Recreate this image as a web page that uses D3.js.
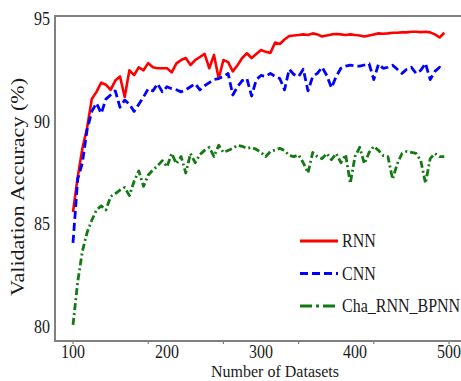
<!DOCTYPE html>
<html>
<head>
<meta charset="utf-8">
<script src="https://cdn.jsdelivr.net/npm/d3@7"></script>
<style>
  body { margin: 0; background: #fff; }
  svg { display: block; }
  text { font-family: "Liberation Serif", "Times New Roman", serif; fill: #1a1a1a; }
</style>
</head>
<body>
<svg id="chart" width="461" height="381"></svg>
<script>
// データ
var datasetSizes = d3.range(100, 500, 5);

var rnnAcc = [
  85.6, 87.3, 88.7, 89.7, 91.1, 91.45, 91.9, 91.8, 91.55, 92.0,
  92.2, 91.2, 92.5, 92.27, 92.65, 92.5, 92.85, 92.65, 92.6, 92.6,
  92.6, 92.4, 92.84, 93.0, 93.1, 92.76, 93.0, 93.15, 93.3, 92.6,
  93.25, 92.1, 93.0, 92.9, 92.45, 92.75, 93.1, 93.33, 93.1, 93.3,
  93.49, 93.4, 93.35, 93.85, 93.78, 94.0, 94.17, 94.2, 94.22, 94.25,
  94.22, 94.3, 94.25, 94.15, 94.2, 94.25, 94.27, 94.25, 94.22, 94.25,
  94.22, 94.2, 94.15, 94.2, 94.25, 94.3, 94.28, 94.3, 94.33, 94.33,
  94.35, 94.35, 94.38, 94.38, 94.36, 94.38, 94.35, 94.25, 94.1, 94.33
];

var cnnAcc = [
  84.1, 87.2, 88.0, 89.6, 90.5, 90.9, 90.4, 91.1, 91.3, 91.5,
  90.7, 91.05, 90.85, 90.5, 90.85, 91.2, 91.6, 91.5, 91.85, 91.45,
  91.7, 91.6, 91.55, 91.45, 91.55, 91.7, 91.85, 91.55, 91.75, 91.9,
  92.05, 92.1, 92.2, 92.35, 91.3, 91.7, 92.0, 92.1, 91.25, 92.05,
  92.25, 92.2, 92.35, 92.2, 92.1, 91.55, 92.55, 92.3, 92.2, 92.55,
  91.5, 92.2, 92.35, 92.65, 92.25, 91.65, 92.2, 92.6, 92.7, 92.75,
  92.72, 92.7, 92.76, 92.82, 92.05, 92.8, 92.6, 92.65, 92.75, 92.55,
  92.35, 92.55, 92.65, 92.35, 92.5, 92.84, 92.05, 92.45, 92.65, 92.55
];

var chaAcc = [
  80.1, 82.2, 83.7, 84.6, 85.2, 85.7, 85.9, 85.7, 86.35, 86.5,
  86.67, 86.8, 86.4, 87.1, 87.6, 86.85, 87.4, 87.65, 87.85, 88.1,
  87.8, 88.45, 87.95, 88.3, 87.5, 88.45, 88.0, 88.4, 88.6, 88.75,
  88.3, 88.85, 88.5, 88.6, 88.7, 88.85, 88.8, 88.7, 88.75, 88.65,
  88.5, 88.3, 88.55, 88.62, 88.7, 88.6, 88.35, 88.3, 88.38, 88.0,
  87.5, 88.5, 88.3, 88.2, 88.45, 88.15, 88.45, 88.0, 88.4, 87.0,
  88.3, 88.75, 87.95, 88.5, 88.8, 88.6, 88.35, 88.3, 87.2, 87.95,
  88.45, 88.55, 88.5, 88.45, 88.1, 87.0, 88.2, 88.45, 88.3, 88.3
];

var seriesNames = ['RNN', 'CNN', 'Cha_RNN_BPNN'];
var xTickValues = [100, 200, 300, 400, 500];
var xTickMarks = [100, 180, 260, 340, 420, 500];
var yTickValues = [80, 85, 90, 95];

// 系列のスタイル
var styles = [
  { color: '#ff0000', dash: null, width: 2.6 },
  { color: '#0000ff', dash: '8,4', width: 2.8 },
  { color: '#137a13', dash: '7,3,2,3', width: 2.8 }
];
var seriesValues = [rnnAcc, cnnAcc, chaAcc];

var plot = { left: 55, top: 16, right: 461, bottom: 341 };

// 画像は縦に少し引き伸ばされているので文字も縦長にする
var stretch = 1.12;

var svg = d3.select('#chart');

var xScale = d3.scaleLinear()
  .domain([80.85, 512.77])
  .range([plot.left, plot.right]);

var yScale = d3.scaleLinear()
  .domain([79.318, 95.146])
  .range([plot.bottom, plot.top]);

// 枠 (左・上・下)
svg.append('path')
  .attr('d', 'M' + plot.right + ',' + plot.top + 'H' + plot.left + 'V' + plot.bottom + 'H' + plot.right)
  .attr('fill', 'none')
  .attr('stroke', '#808080')
  .attr('stroke-width', 2);

// x軸の目盛り
svg.append('g')
  .selectAll('line')
  .data(xTickMarks)
  .enter()
  .append('line')
  .attr('x1', xScale)
  .attr('x2', xScale)
  .attr('y1', plot.bottom + 1)
  .attr('y2', plot.bottom + 3)
  .attr('stroke', '#808080')
  .attr('stroke-width', 1.2);

svg.append('g')
  .selectAll('text')
  .data(xTickValues)
  .enter()
  .append('text')
  .attr('transform', function(d) {
    return 'translate(' + xScale(d) + ',' + 358 + ') scale(1,' + stretch + ')';
  })
  .attr('text-anchor', 'middle')
  .attr('font-size', 16)
  .text(function(d) { return d; });

// y軸のラベル
svg.append('g')
  .selectAll('text')
  .data(yTickValues)
  .enter()
  .append('text')
  .attr('transform', function(d) {
    return 'translate(' + 50 + ',' + (yScale(d) + 6) + ') scale(1,' + stretch + ')';
  })
  .attr('text-anchor', 'end')
  .attr('font-size', 16)
  .text(function(d) { return d; });

// 軸タイトル
svg.append('text')
  .attr('x', 275)
  .attr('y', 377)
  .attr('text-anchor', 'middle')
  .attr('font-size', 16)
  .text('Number of Datasets');

svg.append('text')
  .attr('transform', 'translate(' + 24 + ',' + 187 + ') rotate(-90)')
  .attr('text-anchor', 'middle')
  .attr('font-size', 18)
  .attr('textLength', 218)
  .attr('lengthAdjust', 'spacingAndGlyphs')
  .attr('fill', '#22283a')
  .text('Validation Accuracy (%)');

// 折れ線
var line = d3.line()
  .x(function(d) { return xScale(d[0]); })
  .y(function(d) { return yScale(d[1]); });

svg.append('g')
  .selectAll('path')
  .data(seriesValues)
  .enter()
  .append('path')
  .attr('d', function(vals) {
    return line(vals.map(function(v, i) { return [datasetSizes[i], v]; }));
  })
  .attr('fill', 'none')
  .attr('stroke', function(d, i) { return styles[i].color; })
  .attr('stroke-width', function(d, i) { return styles[i].width; })
  .attr('stroke-dasharray', function(d, i) { return styles[i].dash; })
  .attr('stroke-linejoin', 'round');

// 凡例
var legend = svg.append('g')
  .attr('transform', 'translate(300,241)');

var items = legend.selectAll('g')
  .data(seriesNames)
  .enter()
  .append('g')
  .attr('transform', function(d, i) { return 'translate(0,' + (i * 32.5) + ')'; });

items.append('line')
  .attr('x1', 0)
  .attr('x2', 38)
  .attr('stroke', function(d, i) { return styles[i].color; })
  .attr('stroke-width', 2.8)
  .attr('stroke-dasharray', function(d, i) { return i === 2 ? '12,4,3,4' : styles[i].dash; });

items.append('text')
  .attr('transform', 'translate(42,6) scale(1,' + stretch + ')')
  .attr('font-size', 16)
  .text(function(d) { return d; });
</script>
</body>
</html>
